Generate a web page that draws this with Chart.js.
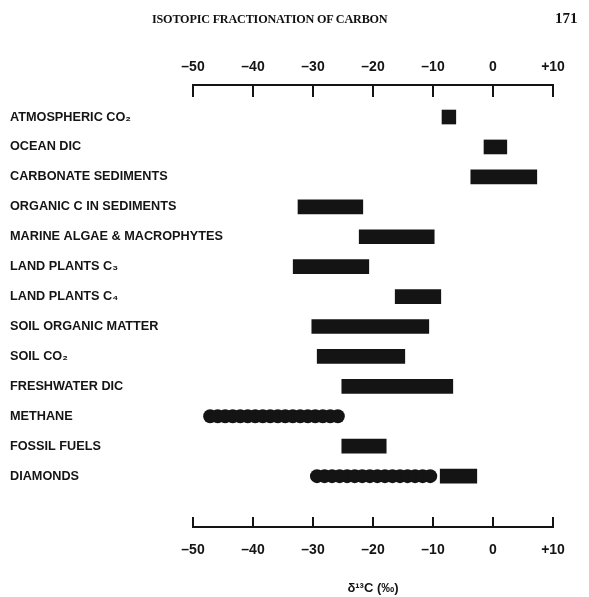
<!DOCTYPE html>
<html>
<head>
<meta charset="utf-8">
<script src="https://cdn.jsdelivr.net/npm/chart.js@4"></script>
<style>
  html, body { margin: 0; padding: 0; background: #fff; }
  #wrap { position: relative; width: 589px; height: 597px; }
  .hdr { position: absolute; font-family: "Liberation Serif", serif; font-weight: bold; color: #111; white-space: nowrap; }
  #running { left: 152px; top: 12px; font-size: 12.2px; letter-spacing: -0.2px; }
  #page { left: 555px; top: 10px; font-size: 15px; }
</style>
</head>
<body>
<div id="wrap">
  <canvas id="chart" width="589" height="597"></canvas>
  <div class="hdr" id="running">ISOTOPIC FRACTIONATION OF CARBON</div>
  <div class="hdr" id="page">171</div>
</div>
<script>
const categories = [
    "ATMOSPHERIC CO₂", "OCEAN DIC", "CARBONATE SEDIMENTS", "ORGANIC C IN SEDIMENTS",
    "MARINE ALGAE & MACROPHYTES", "LAND PLANTS C₃", "LAND PLANTS C₄", "SOIL ORGANIC MATTER",
    "SOIL CO₂", "FRESHWATER DIC", "METHANE", "FOSSIL FUELS", "DIAMONDS"
];
// solid ranges (δ13C, per mil)
const solidLow = [-8.5, -1.5, -3.7, -32.5, -22.3, -33.3, -16.3, -30.2, -29.3, -25.2, null, -25.2, -8.8];
const solidHigh = [-6.2, 2.3, 7.3, -21.7, -9.8, -20.7, -8.7, -10.7, -14.7, -6.7, null, -17.8, -2.7];
// wavy (scalloped) ranges
const wavyLow = [null, null, null, null, null, null, null, null, null, null, -48.3, null, -30.5];
const wavyHigh = [null, null, null, null, null, null, null, null, null, null, -24.7, null, -9.3];
const axisTicks = [-50, -40, -30, -20, -10, 0, 10];

const ink = "#141414";
const tickFont = { family: "Liberation Sans", size: 14, weight: "bold" };

function toRanges(low, high) {
    return low
        .map((lo, i) => (lo === null ? null : { x: [lo, high[i]], y: i }))
        .filter((item) => item !== null);
}

function formatTick(value) {
    if (value < 0) return "\u2013" + Math.abs(value);
    if (value > 0) return "+" + value;
    return "0";
}

const bracketAxes = {
    id: "bracketAxes",
    afterDraw(chart) {
        const { ctx, chartArea } = chart;
        ctx.save();
        ctx.strokeStyle = ink;
        ctx.lineWidth = 2;
        [["x", chartArea.bottom, -10], ["x2", chartArea.top, 12]].forEach(([id, y, len]) => {
            const scale = chart.scales[id];
            ctx.beginPath();
            ctx.moveTo(scale.left - 1, y);
            ctx.lineTo(scale.right + 1, y);
            axisTicks.forEach((v) => {
                const x = scale.getPixelForValue(v);
                ctx.moveTo(x, y);
                ctx.lineTo(x, y + len);
            });
            ctx.stroke();
        });
        ctx.restore();
    }
};

// scalloped bars for the ranges drawn with a wavy outline
const wavyBars = {
    id: "wavyBars",
    afterDatasetsDraw(chart) {
        const meta = chart.getDatasetMeta(1);
        const { ctx } = chart;
        ctx.save();
        ctx.fillStyle = ink;
        meta.data.forEach((bar) => {
            if (bar.x === undefined || isNaN(bar.x)) return;
            const left = Math.min(bar.x, bar.base);
            const right = Math.max(bar.x, bar.base);
            const r = bar.height / 2;
            const span = right - left - 2 * r;
            const n = Math.max(1, Math.round(span / 7.5));
            ctx.fillRect(left + r, bar.y - r * 0.8, span, r * 1.6);
            for (let k = 0; k <= n; k++) {
                ctx.beginPath();
                ctx.arc(left + r + (span * k) / n, bar.y, r, 0, Math.PI * 2);
                ctx.fill();
            }
        });
        ctx.restore();
    }
};

new Chart(document.getElementById("chart"), {
    type: "bar",
    data: {
        datasets: [
            { data: toRanges(solidLow, solidHigh), backgroundColor: ink, barThickness: 14, grouped: false, borderSkipped: false, borderWidth: 0 },
            { data: toRanges(wavyLow, wavyHigh), backgroundColor: "rgba(0,0,0,0)", barThickness: 14, grouped: false, borderWidth: 0 }
        ]
    },
    options: {
        indexAxis: "y",
        responsive: false,
        animation: false,
        devicePixelRatio: 1,
        layout: { padding: { left: 10, right: 36, top: 0, bottom: 0 } },
        plugins: { legend: { display: false }, tooltip: { enabled: false } },
        scales: {
            y: {
                type: "linear",
                reverse: true,
                offset: false,
                min: -1.07,
                max: 13.7,
                afterBuildTicks: (scale) => { scale.ticks = categories.map((c, i) => ({ value: i })); },
                afterFit: (scale) => { scale.width = 183; },
                ticks: {
                    callback: (value) => categories[value],
                    mirror: true,
                    padding: -183,
                    color: ink,
                    autoSkip: false,
                    font: { family: "Liberation Sans", size: 12.7, weight: "bold" }
                },
                grid: { display: false, drawTicks: false, offset: false },
                border: { display: false }
            },
            x: {
                type: "linear",
                position: "bottom",
                min: -50,
                max: 10,
                afterBuildTicks: (scale) => { scale.ticks = axisTicks.map((v) => ({ value: v })); },
                afterFit: (scale) => { scale.height = 70; },
                ticks: { callback: formatTick, color: ink, font: tickFont, padding: 15 },
                grid: { display: false, drawTicks: false },
                border: { display: false },
                title: { display: true, text: "δ¹³C (‰)", color: ink, font: { family: "Liberation Sans", size: 13, weight: "bold" }, padding: { top: 20, bottom: 1 } }
            },
            x2: {
                type: "linear",
                position: "top",
                min: -50,
                max: 10,
                afterBuildTicks: (scale) => { scale.ticks = axisTicks.map((v) => ({ value: v })); },
                afterFit: (scale) => { scale.height = 85; },
                ticks: { callback: formatTick, color: ink, font: tickFont, padding: 9 },
                grid: { display: false, drawTicks: false },
                border: { display: false }
            }
        }
    },
    plugins: [bracketAxes, wavyBars]
});
</script>
</body>
</html>
